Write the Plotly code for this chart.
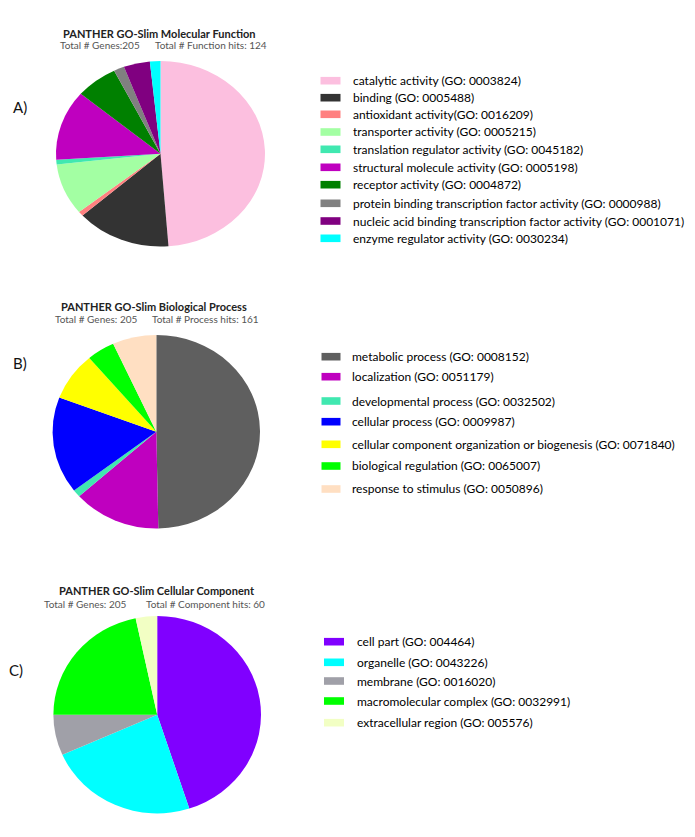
import plotly.graph_objects as go

W, H = 695, 837

# --- A) Molecular Function ---
mf_labels = [
    "catalytic activity (GO: 0003824)",
    "binding (GO: 0005488)",
    "antioxidant activity(GO: 0016209)",
    "transporter activity (GO: 0005215)",
    "translation regulator activity (GO: 0045182)",
    "structural molecule activity (GO: 0005198)",
    "receptor activity (GO: 0004872)",
    "protein binding transcription factor activity (GO: 0000988)",
    "nucleic acid binding transcription factor activity (GO: 0001071)",
    "enzyme regulator activity (GO: 0030234)",
]
mf_values = [60, 18, 1, 11, 1, 15, 8, 2, 5, 2]
mf_colors = ["#FCBFDF", "#333333", "#FF8080", "#A3FFA3", "#40E8B0",
             "#BF00BF", "#008000", "#808080", "#800080", "#00FFFF"]

# --- B) Biological Process ---
bp_labels = [
    "metabolic process (GO: 0008152)",
    "localization (GO: 0051179)",
    "developmental process (GO: 0032502)",
    "cellular process (GO: 0009987)",
    "cellular component organization or biogenesis (GO: 0071840)",
    "biological regulation (GO: 0065007)",
    "response to stimulus (GO: 0050896)",
]
bp_values = [80, 22, 2, 26, 13, 7, 11]
bp_colors = ["#5F5F5F", "#BF00BF", "#40E8B0", "#0000FF", "#FFFF00", "#00FF00", "#FFDFC2"]

# --- C) Cellular Component ---
cc_labels = [
    "cell part (GO: 004464)",
    "organelle (GO: 0043226)",
    "membrane (GO: 0016020)",
    "macromolecular complex (GO: 0032991)",
    "extracellular region (GO: 005576)",
]
cc_values = [27, 14, 4, 13, 2]
cc_colors = ["#8000FF", "#00FFFF", "#A0A0A8", "#00FF00", "#F2FFC4"]


def px(x):
    return x / W


def py(y):
    return 1 - y / H


# pies in the source image are slightly squashed vertically: rx = width radius, ry = height radius
panels = [
    dict(values=mf_values, colors=mf_colors, labels=mf_labels, c=(160.5, 153.8), rx=104.5, ry=92.8,
         title="PANTHER GO-Slim Molecular Function", tx=159, ty=33,
         subs=[("Total # Genes:205", 58), ("Total # Function hits: 124", 153)], sy=45.5,
         letter="A)", lx=11, ly=107,
         leg_y=[80.7, 97.7, 114.3, 132, 149.3, 167.3, 184.7, 203.3, 221, 238.3],
         sw_x=(320.5, 340.5), txt_x=351),
    dict(values=bp_values, colors=bp_colors, labels=bp_labels, c=(156.3, 431.7), rx=103.7, ry=96.7,
         title="PANTHER GO-Slim Biological Process", tx=153.5, ty=307,
         subs=[("Total # Genes: 205", 52.5), ("Total # Process hits: 161", 150)], sy=319,
         letter="B)", lx=11, ly=363,
         leg_y=[356.7, 376.7, 401, 421.7, 444.3, 466, 489],
         sw_x=(321.5, 340.5), txt_x=350),
    dict(values=cc_values, colors=cc_colors, labels=cc_labels, c=(157.2, 714.7), rx=103.8, ry=98.7,
         title="PANTHER GO-Slim Cellular Component", tx=156.7, ty=590,
         subs=[("Total # Genes: 205", 41.5), ("Total # Component hits: 60", 144)], sy=604,
         letter="C)", lx=7, ly=670,
         leg_y=[641.7, 662.3, 681, 701, 722.7],
         sw_x=(324, 344), txt_x=355),
]

fig = go.Figure()
annotations = []
shapes = []
FONT = "Lato, 'Open Sans', Arial, sans-serif"

for p in panels:
    cx, cy = p["c"]
    r = p["rx"]
    fig.add_trace(go.Pie(
        values=p["values"], labels=p["labels"],
        marker=dict(colors=p["colors"], line=dict(width=0)),
        sort=False, direction="clockwise", rotation=0,
        textinfo="none", hoverinfo="label+value+percent", showlegend=False,
        domain=dict(x=[px(cx - r), px(cx + r)], y=[py(cy + r), py(cy - r)]),
    ))
    annotations.append(dict(
        text="<b>" + p["title"] + "</b>", x=px(p["tx"]), y=py(p["ty"]),
        xref="paper", yref="paper", xanchor="center", yanchor="middle",
        showarrow=False, font=dict(size=11, color="#222222", family=FONT)))
    for s, sx in p["subs"]:
        annotations.append(dict(
            text=s, x=px(sx), y=py(p["sy"]), xref="paper", yref="paper",
            xanchor="left", yanchor="middle", showarrow=False,
            font=dict(size=10, color="#555555", family=FONT)))
    annotations.append(dict(
        text=p["letter"], x=px(p["lx"]), y=py(p["ly"]), xref="paper", yref="paper",
        xanchor="left", yanchor="middle", showarrow=False,
        font=dict(size=15, color="#111111", family=FONT)))
    # hand-drawn legend (rectangular swatches like the original)
    x0, x1 = p["sw_x"]
    for lab, col, ly in zip(p["labels"], p["colors"], p["leg_y"]):
        shapes.append(dict(type="rect", xref="paper", yref="paper",
                           x0=px(x0), x1=px(x1), y0=py(ly + 3.8), y1=py(ly - 3.8),
                           fillcolor=col, line=dict(width=0)))
        annotations.append(dict(
            text=lab, x=px(p["txt_x"]), y=py(ly), xref="paper", yref="paper",
            xanchor="left", yanchor="middle", showarrow=False,
            font=dict(size=12, color="#000000", family=FONT)))

fig.update_layout(
    width=W, height=H,
    margin=dict(l=0, r=0, t=0, b=0),
    paper_bgcolor="white", plot_bgcolor="white",
    annotations=annotations, shapes=shapes,
    showlegend=False,
)

squash = ",".join(str(round(p["ry"] / p["rx"], 4)) for p in panels)
post = """
document.body.style.margin = '0';
var gd = document.getElementById('{plot_id}');
var ks = [%s];
gd.querySelectorAll('.pielayer .trace').forEach(function(g, i) {
    var b = g.getBBox();
    var cy = b.y + b.height / 2;
    g.setAttribute('transform', 'translate(0,' + cy + ') scale(1,' + ks[i] + ') translate(0,' + (-cy) + ')');
});
""" % squash

fig.write_html("out.html", config={"displayModeBar": False}, post_script=post)
